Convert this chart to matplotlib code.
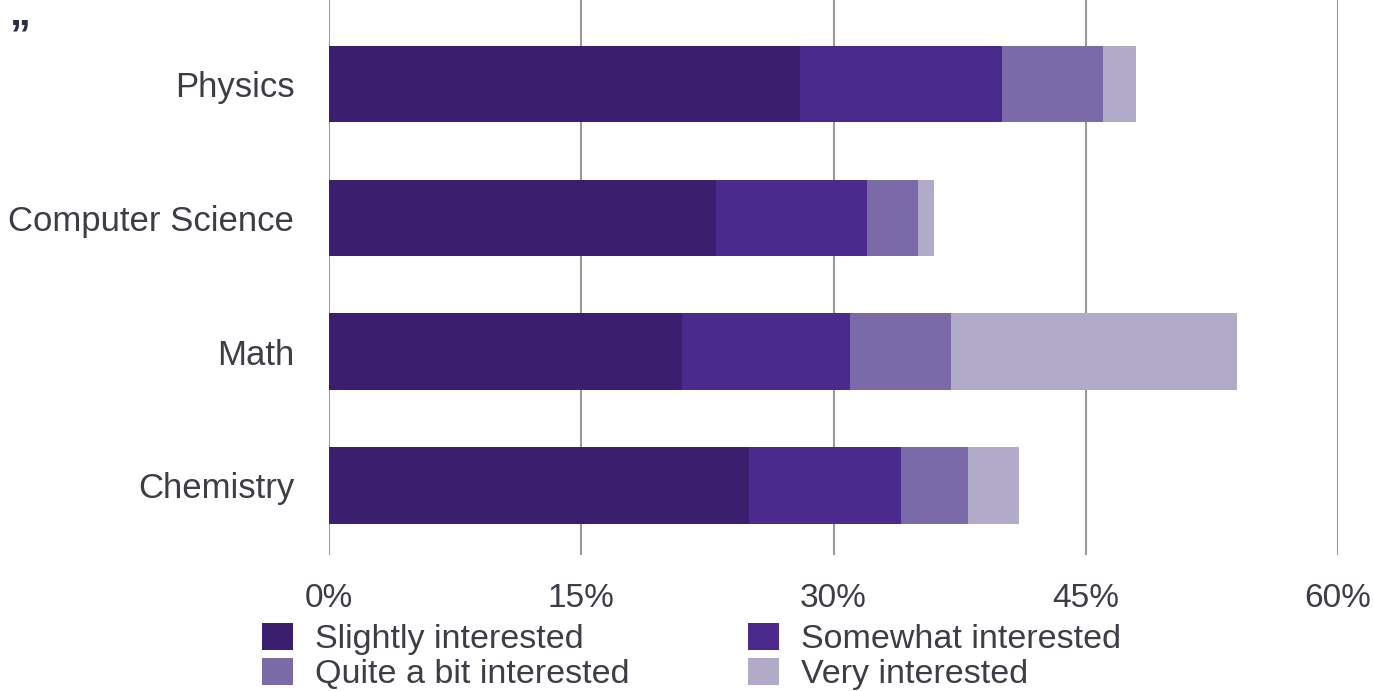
import numpy as np
import matplotlib
matplotlib.use('Agg')
import matplotlib.pyplot as plt
from matplotlib.ticker import FuncFormatter

plt.rcParams['font.family'] = ['Liberation Sans', 'DejaVu Sans']

# --- Data (percent of respondents) ---
subjects = ['Physics', 'Computer Science', 'Math', 'Chemistry']
levels = ['Slightly interested', 'Somewhat interested',
          'Quite a bit interested', 'Very interested']
slightly = [28, 23, 21, 25]
somewhat = [12, 9, 10, 9]
quite_a_bit = [6, 3, 6, 4]
very = [2, 1, 17, 3]
xticks = [0, 15, 30, 45, 60]

colors = ['#3b1f6f', '#4a2a8c', '#7b6aa8', '#b1aac9']
text_color = '#3c3d47'

fig = plt.figure(figsize=(13.74, 6.91), dpi=100)
ax = fig.add_axes([0.2395, 0.1968, 0.7343, 0.8032])

y = np.arange(len(subjects))
left = np.zeros(len(subjects))
bars = []
for vals, col, lab in zip([slightly, somewhat, quite_a_bit, very], colors, levels):
    b = ax.barh(y, vals, left=left, height=0.57, color=col, label=lab, zorder=3)
    bars.append(b)
    left = left + np.array(vals)

ax.set_xlim(0, 60)
ax.set_ylim(3.52, -0.628)
ax.set_xticks(xticks)
ax.xaxis.set_major_formatter(FuncFormatter(lambda v, p: f'{v:.0f}%'))
ax.set_yticks(y)
ax.set_yticklabels(subjects)
ax.grid(axis='x', color='#9a9a9a', linewidth=1.5, zorder=0)
for s in ax.spines.values():
    s.set_visible(False)
ax.tick_params(axis='both', length=0, labelcolor=text_color)
ax.tick_params(axis='x', pad=20, labelsize=24)
ax.tick_params(axis='y', pad=25, labelsize=25)

# legend: two columns, rows = (Slightly, Somewhat), (Quite, Very)
handles = [bars[0], bars[2], bars[1], bars[3]]
labels = [levels[0], levels[2], levels[1], levels[3]]
leg = fig.legend(handles, labels, ncol=2, loc='upper left',
                 bbox_to_anchor=(262 / 1374, 1 - 623 / 691),
                 frameon=False, fontsize=24.5, handlelength=0.9, handleheight=0.85,
                 handletextpad=0.65, columnspacing=3.5, labelspacing=0.08,
                 borderpad=0, borderaxespad=0)
for t in leg.get_texts():
    t.set_color(text_color)

# stray quote mark at top-left of the source image
fig.text(0.007, 0.975, '\u201d', fontsize=30, color='#2a2d45', va='top', ha='left',
         fontweight='bold')

fig.savefig('out.png', dpi=100)
